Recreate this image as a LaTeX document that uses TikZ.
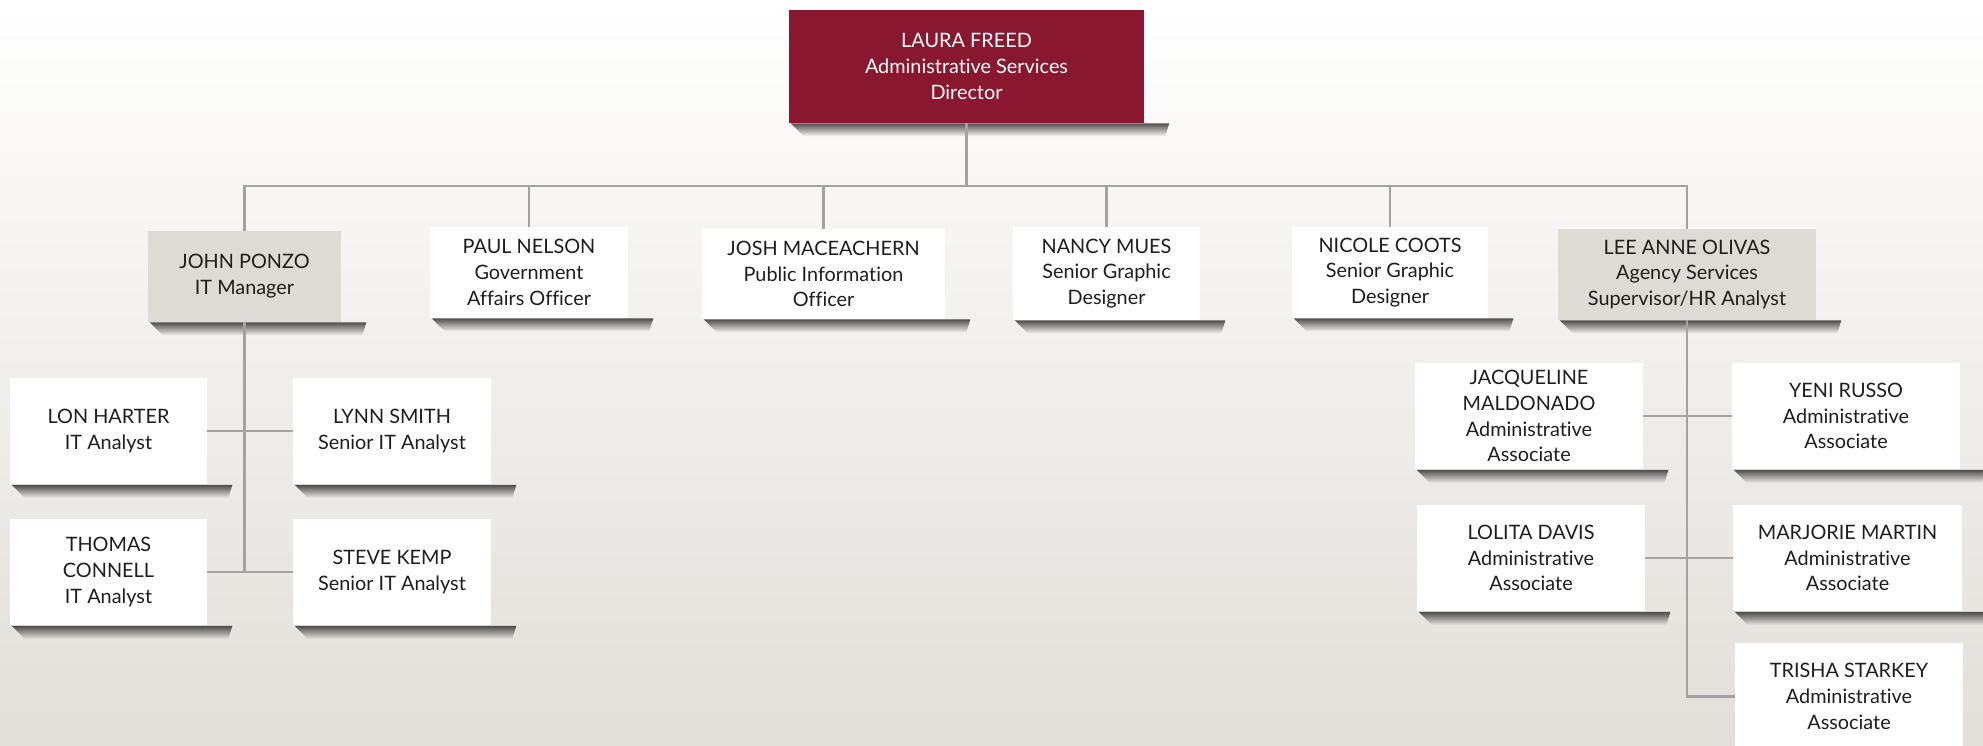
\documentclass[tikz,border=0pt]{standalone}
\usepackage{fontspec}
\setmainfont{Lato}[Ligatures=NoCommon]
\usepackage{tikz}
\usetikzlibrary{positioning,fadings}
\definecolor{wine}{HTML}{8A1730}
\definecolor{stone}{HTML}{DEDAD5}
\definecolor{wire}{HTML}{A2A2A2}
\definecolor{ink}{HTML}{1E1E1E}
\definecolor{floor}{HTML}{E2DFDA}
\pgfdeclarelayer{backlayer}
\pgfdeclarelayer{edgelayer}
\pgfdeclarelayer{nodelayer}
\pgfsetlayers{backlayer,edgelayer,nodelayer,main}
\newcommand{\orgfont}{\fontsize{11.3}{14.7}\selectfont}
\tikzset{font=\orgfont}
\tikzfading[name=bandfade, top color=transparent!0, middle color=transparent!70, bottom color=transparent!100]
\tikzstyle{director}=[rectangle,fill=wine,text=white,align=center,inner sep=0pt,minimum width=7.10cm,minimum height=2.26cm]
\tikzstyle{manager}=[rectangle,fill=stone,text=ink,align=center,inner sep=0pt,minimum height=1.82cm]
\tikzstyle{staff}=[rectangle,fill=white,text=ink,align=center,inner sep=0pt,minimum height=1.82cm]
\tikzstyle{assoc}=[staff,minimum width=3.96cm,minimum height=2.14cm]
\tikzstyle{link}=[-,draw=wire,line width=0.05cm]
\tikzstyle{dropband}=[fill=black!85,fill opacity=0.8,path fading=bandfade]

\begin{document}
\begin{tikzpicture}[x=0.02cm,y=-0.02cm]
	\useasboundingbox (0,0) rectangle (1983,746);
	\begin{pgfonlayer}{nodelayer}
		\node [style=director] (Freed) at (966.5,66.5) {LAURA FREED\\Administrative Services\\Director};
		\coordinate (bus) at (966.5,186);
		\node [style=manager, minimum width=3.86cm] (Ponzo) at (244.5,276.5) {JOHN PONZO\\IT Manager};
		\node [style=staff, minimum width=3.96cm] (Nelson) at (529,272.5) {PAUL NELSON\\Government\\Affairs Officer};
		\node [style=staff, minimum width=4.86cm, minimum height=1.80cm] (Maceachern) at (823.5,274) {JOSH MACEACHERN\\Public Information\\Officer};
		\node [style=staff, minimum width=3.74cm, minimum height=1.86cm] (Mues) at (1106.5,273.5) {NANCY MUES\\Senior Graphic\\Designer};
		\node [style=staff, minimum width=3.92cm] (Coots) at (1390,272.5) {NICOLE COOTS\\Senior Graphic\\Designer};
		\node [style=manager, minimum width=5.16cm] (Olivas) at (1687,274.5) {LEE ANNE OLIVAS\\Agency Services\\Supervisor/HR Analyst};
%		IT team
		\node [style=assoc, minimum width=3.94cm] (Harter) at (108.5,431) {LON HARTER\\IT Analyst};
		\node [style=assoc] (Smith) at (392,431) {LYNN SMITH\\Senior IT Analyst};
		\node [style=assoc, minimum width=3.94cm] (Connell) at (108.5,572) {THOMAS\\CONNELL\\IT Analyst};
		\node [style=assoc] (Kemp) at (392,572) {STEVE KEMP\\Senior IT Analyst};
%		agency services team
		\node [style=assoc, minimum width=4.56cm] (Maldonado) at (1529,416) {JACQUELINE\\MALDONADO\\Administrative\\Associate};
		\node [style=assoc, minimum width=4.56cm] (Russo) at (1846,416) {YENI RUSSO\\Administrative\\Associate};
		\node [style=assoc, minimum width=4.56cm] (Davis) at (1531,558) {LOLITA DAVIS\\Administrative\\Associate};
		\node [style=assoc, minimum width=4.58cm] (Martin) at (1847.5,558) {MARJORIE MARTIN\\Administrative\\Associate};
		\node [style=assoc, minimum width=4.56cm] (Starkey) at (1849,696.5) {TRISHA STARKEY\\Administrative\\Associate};
	\end{pgfonlayer}
	\begin{pgfonlayer}{edgelayer}
		\draw [style=link] (Freed) to (Freed |- bus);
		\draw [style=link] (Ponzo) |- (bus) -| (Olivas);
		\foreach \n in {Nelson,Maceachern,Mues,Coots}
			\draw [style=link] (\n |- bus) to (\n);
		\draw [style=link] (Ponzo) to (Ponzo |- Connell);
		\draw [style=link] (Harter) to (Smith);
		\draw [style=link] (Connell) to (Kemp);
		\draw [style=link] (Olivas) |- (Starkey);
		\draw [style=link] (Maldonado) to (Russo);
		\draw [style=link] (Davis) to (Martin);
	\end{pgfonlayer}
	\begin{pgfonlayer}{backlayer}
		\shade [top color=white, bottom color=floor] (0,0) rectangle (1983,746);
		% curled shadow under every box
		\foreach \n in {Freed,Ponzo,Nelson,Maceachern,Mues,Coots,Olivas,Harter,Smith,Connell,Kemp,Maldonado,Russo,Davis,Martin,Starkey}
			\fill [style=dropband] ([xshift=0.04cm]\n.south west) -- ([xshift=0.5cm]\n.south east) -- ([xshift=0.42cm,yshift=-0.26cm]\n.south east) -- ([xshift=0.3cm,yshift=-0.26cm]\n.south west) -- cycle;
	\end{pgfonlayer}
\end{tikzpicture}
\end{document}
